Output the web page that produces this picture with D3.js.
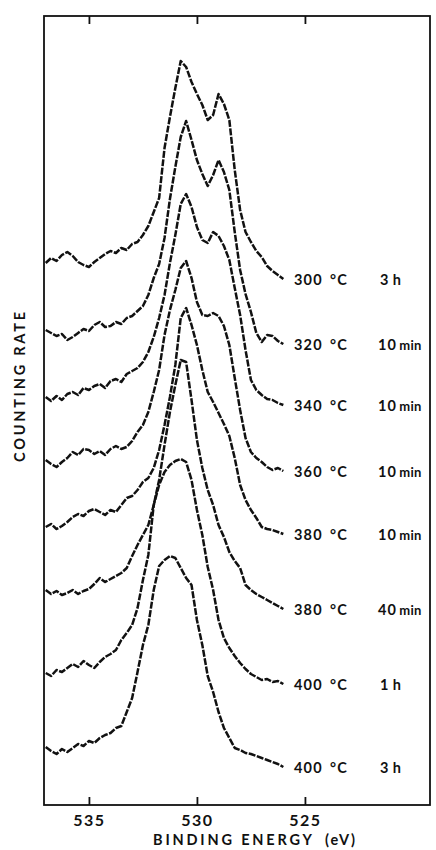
<!DOCTYPE html>
<html>
<head>
<meta charset="utf-8">
<script src="https://cdn.jsdelivr.net/npm/d3@7"></script>
<style>
  html, body { margin: 0; padding: 0; background: #fff; }
  text { font-family: Lato, "Open Sans", sans-serif; fill: #111; }
</style>
</head>
<body>
<div id="chart"></div>
<script>
// binding energy grid (eV), left to right
const energies = [537.00, 536.75, 536.50, 536.25, 536.00, 535.75, 535.50, 535.25, 535.00,
  534.75, 534.50, 534.25, 534.00, 533.75, 533.50, 533.25, 533.00, 532.75, 532.50, 532.25,
  532.00, 531.75, 531.50, 531.25, 531.00, 530.75, 530.50, 530.25, 530.00, 529.75, 529.50,
  529.25, 529.00, 528.75, 528.50, 528.25, 528.00, 527.75, 527.50, 527.25, 527.00, 526.75,
  526.50, 526.25, 526.00];

// counting rate, arbitrary units (spectra are offset as in the original)
const s300_3h = [542, 547, 544, 550, 553, 549, 543, 540, 538, 543, 547, 551, 554, 552, 557,
  555, 561, 563, 570, 579, 593, 607, 657, 688, 717, 744, 738, 723, 711, 700, 685, 690, 711,
  701, 685, 635, 595, 573, 563, 554, 548, 539, 534, 530, 526];
const s320_10m = [475, 472, 469, 471, 465, 468, 472, 476, 474, 480, 483, 478, 479, 483, 481,
  487, 489, 494, 499, 510, 527, 541, 567, 606, 638, 668, 684, 665, 645, 631, 619, 630, 645,
  633, 615, 573, 535, 511, 493, 472, 463, 470, 469, 464, 461];
const s340_10m = [408, 404, 409, 405, 411, 413, 410, 417, 415, 419, 421, 417, 424, 426, 423,
  431, 434, 437, 443, 453, 468, 487, 510, 542, 570, 601, 611, 598, 578, 565, 562, 573, 569,
  559, 545, 517, 490, 455, 425, 415, 410, 406, 405, 402, 400];
const s360_10m = [345, 341, 338, 343, 347, 353, 350, 356, 355, 351, 354, 350, 356, 359, 356,
  358, 364, 373, 380, 393, 413, 435, 470, 495, 515, 537, 544, 527, 503, 490, 489, 492, 489,
  479, 460, 427, 395, 367, 353, 347, 343, 338, 335, 337, 334];
const s380_10m = [278, 281, 276, 279, 283, 288, 291, 289, 294, 296, 293, 290, 295, 293, 300,
  307, 309, 315, 323, 327, 337, 355, 380, 408, 440, 487, 497, 480, 460, 435, 413, 403, 392,
  381, 369, 347, 320, 305, 295, 287, 278, 276, 275, 273, 271];
const s380_40m = [215, 211, 214, 210, 212, 215, 211, 214, 216, 221, 227, 223, 226, 229, 232,
  237, 249, 260, 270, 280, 300, 325, 360, 393, 420, 445, 443, 405, 365, 337, 315, 300, 280,
  268, 253, 244, 237, 220, 215, 211, 208, 205, 202, 199, 196];
const s400_1h = [132, 129, 135, 133, 137, 141, 138, 144, 140, 137, 143, 148, 151, 155, 165,
  172, 180, 197, 225, 250, 300, 320, 333, 340, 344, 346, 343, 325, 295, 270, 238, 215, 185,
  167, 157, 149, 142, 136, 131, 128, 125, 126, 123, 124, 121];
const s400_3h = [58, 54, 51, 56, 53, 57, 61, 59, 64, 62, 67, 70, 72, 77, 79, 93, 107, 133,
  160, 180, 215, 239, 245, 249, 247, 237, 227, 220, 185, 160, 129, 113, 93, 77, 67, 57, 55,
  52, 51, 49, 47, 45, 43, 41, 38];

const series = [s300_3h, s320_10m, s340_10m, s360_10m, s380_10m, s380_40m, s400_1h, s400_3h];
const temperatures = ["300", "320", "340", "360", "380", "380", "400", "400"];
const durations = ["3 h", "10 min", "10 min", "10 min", "10 min", "40 min", "1 h", "3 h"];

const energyTicks = [535, 530, 525];
const energyDomain = [537.08, 519.21];
const countDomain = [0, 789];

const width = 436, height = 850;
const margin = { top: 16, right: 6, bottom: 45, left: 44 };
const plotRight = width - margin.right;
const plotBottom = height - margin.bottom;

const svg = d3.select("#chart").append("svg")
  .attr("width", width)
  .attr("height", height)
  .style("display", "block")
  .style("background", "#fff");

const x = d3.scaleLinear().domain(energyDomain).range([margin.left, plotRight]);
const y = d3.scaleLinear().domain(countDomain).range([plotBottom, margin.top]);

// frame
svg.append("rect")
  .attr("x", margin.left)
  .attr("y", margin.top)
  .attr("width", plotRight - margin.left)
  .attr("height", plotBottom - margin.top)
  .attr("fill", "none")
  .attr("stroke", "#111")
  .attr("stroke-width", 1.8);

// bottom axis, ticks pointing inward
const xAxis = svg.append("g")
  .attr("transform", `translate(0,${plotBottom})`)
  .call(d3.axisBottom(x).tickValues(energyTicks).tickSizeInner(-8).tickSizeOuter(0).tickPadding(10));
xAxis.select(".domain").remove();
xAxis.selectAll(".tick line").attr("stroke", "#111").attr("stroke-width", 1.8);
xAxis.selectAll(".tick text")
  .style("font-family", "Lato, sans-serif")
  .style("font-size", "16px")
  .style("font-weight", "700")
  .style("letter-spacing", "1.5px")
  .attr("fill", "#111");

// top ticks
const topAxis = svg.append("g")
  .attr("transform", `translate(0,${margin.top})`)
  .call(d3.axisTop(x).tickValues(energyTicks).tickSizeInner(-8).tickSizeOuter(0).tickFormat(""));
topAxis.select(".domain").remove();
topAxis.selectAll(".tick line").attr("stroke", "#111").attr("stroke-width", 1.8);

// spectra
const line = d3.line()
  .x((d, i) => x(energies[i]))
  .y(d => y(d));

svg.append("g")
  .selectAll("path")
  .data(series)
  .join("path")
  .attr("d", line)
  .attr("fill", "none")
  .attr("stroke", "#111")
  .attr("stroke-width", 2.5)
  .attr("stroke-linejoin", "round")
  .attr("stroke-dasharray", "7,1.5");

// sample labels at the right end of each spectrum
const labels = svg.append("g")
  .selectAll("text")
  .data(series)
  .join("text")
  .attr("x", 294)
  .attr("y", d => y(d[d.length - 1]) + 6)
  .style("font-size", "14.5px")
  .style("font-weight", "700")
  .style("letter-spacing", "1.2px");

labels.append("tspan").text((d, i) => temperatures[i]);
labels.append("tspan").attr("x", 330).text("°C");
labels.append("tspan")
  .attr("x", (d, i) => durations[i].includes("min") ? 378 : 380)
  .text((d, i) => durations[i].split(" ")[0]);
labels.append("tspan")
  .attr("dx", (d, i) => durations[i].includes("min") ? 2 : 3)
  .style("font-size", (d, i) => durations[i].includes("min") ? "13px" : "14.5px")
  .style("letter-spacing", "0.3px")
  .text((d, i) => durations[i].split(" ")[1]);

// axis titles
svg.append("text")
  .attr("x", 153)
  .attr("y", 845)
  .attr("textLength", 159)
  .attr("lengthAdjust", "spacing")
  .style("font-size", "14.5px")
  .style("font-weight", "700")
  .text("BINDING ENERGY");

svg.append("text")
  .attr("x", 325)
  .attr("y", 845)
  .attr("textLength", 30)
  .attr("lengthAdjust", "spacing")
  .style("font-size", "14.5px")
  .style("font-weight", "700")
  .text("(eV)");

svg.append("text")
  .attr("transform", "translate(25,387) rotate(-90)")
  .attr("text-anchor", "middle")
  .attr("textLength", 150)
  .attr("lengthAdjust", "spacing")
  .style("font-size", "14.5px")
  .style("font-weight", "700")
  .text("COUNTING RATE");
</script>
</body>
</html>
